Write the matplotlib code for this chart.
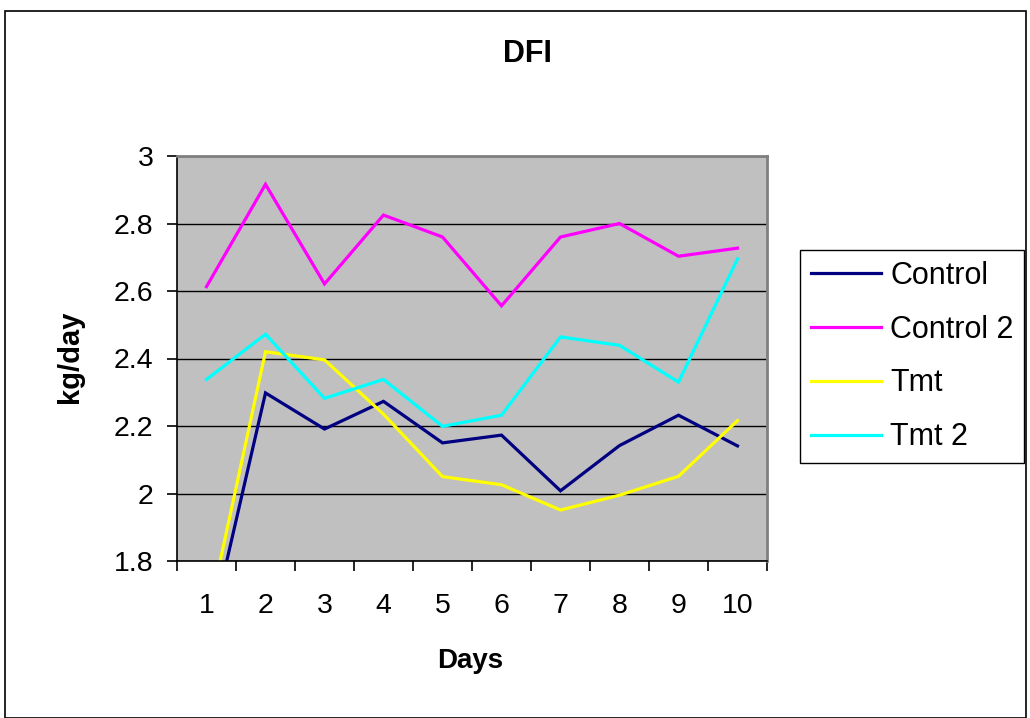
import matplotlib
matplotlib.use("Agg")
import matplotlib.pyplot as plt
from matplotlib.patches import Rectangle

plt.rcParams['font.family'] = ['Liberation Sans', 'DejaVu Sans']

days = [1, 2, 3, 4, 5, 6, 7, 8, 9, 10]
control = [1.54, 2.298, 2.191, 2.273, 2.150, 2.173, 2.008, 2.142, 2.232, 2.141]
control2 = [2.613, 2.916, 2.621, 2.825, 2.760, 2.556, 2.760, 2.800, 2.703, 2.727]
tmt = [1.613, 2.420, 2.396, 2.235, 2.050, 2.026, 1.951, 1.995, 2.051, 2.216]
tmt2 = [2.338, 2.472, 2.282, 2.338, 2.199, 2.232, 2.464, 2.439, 2.330, 2.695]
series_names = ["Control", "Control 2", "Tmt", "Tmt 2"]
series_colors = ["#000080", "#FF00FF", "#FFFF00", "#00FFFF"]
y_ticks = [1.8, 2.0, 2.2, 2.4, 2.6, 2.8, 3.0]
y_labels = ["1.8", "2", "2.2", "2.4", "2.6", "2.8", "3"]

W, H = 1030, 718
fig = plt.figure(figsize=(W / 100, H / 100), dpi=100)
fig.patches.append(Rectangle((5 / W, 0), (1026 - 5) / W, 1 - 11 / H,
                             transform=fig.transFigure, fill=False,
                             edgecolor='black', linewidth=1.2))

ax = fig.add_axes([177 / W, 1 - 561 / H, (767 - 177) / W, (561 - 156) / H])
ax.set_facecolor('#C0C0C0')

for vals, name, col in zip([control, control2, tmt, tmt2], series_names, series_colors):
    ax.plot(days, vals, color=col, linewidth=2.3, label=name, solid_joinstyle='miter')

ax.set_xlim(0.5, 10.5)
ax.set_ylim(1.8, 3.0)
ax.set_yticks(y_ticks)
ax.set_yticklabels(y_labels, fontsize=20.5)
ax.set_xticks(days)
ax.set_xticklabels([str(d) for d in days], fontsize=20.5)
ax.set_xticks([d + 0.5 for d in [0] + days], minor=True)
ax.tick_params(axis='x', which='major', length=0, pad=23)
ax.tick_params(axis='x', which='minor', length=7, width=1.2, direction='out', color='black')
ax.tick_params(axis='y', which='major', length=7, width=1.2, direction='out', pad=10)
ax.yaxis.grid(True, color='black', linewidth=1.0)
ax.set_axisbelow(True)

for s in ['top', 'right']:
    ax.spines[s].set_color('#808080')
    ax.spines[s].set_linewidth(2.0)
for s in ['left', 'bottom']:
    ax.spines[s].set_color('black')
    ax.spines[s].set_linewidth(1.2)

fig.text(527 / W, 1 - 54 / H, "DFI", fontsize=22, fontweight='bold', ha='center', va='center')
fig.text(70 / W, 1 - 357 / H, "kg/day", fontsize=21, fontweight='bold', rotation=90,
         ha='center', va='center')
fig.text(470 / W, 1 - 661 / H, "Days", fontsize=20, fontweight='bold', ha='center', va='center')

leg = ax.legend(loc='upper left', bbox_to_anchor=(800 / W, 1 - 250 / H),
                bbox_transform=fig.transFigure, fontsize=22, frameon=True,
                fancybox=False, edgecolor='black', framealpha=1,
                handlelength=2.3, handletextpad=0.3, labelspacing=0.78,
                borderpad=0.35, borderaxespad=0)
leg.get_frame().set_linewidth(1.0)

fig.savefig("out.png", dpi=100)
